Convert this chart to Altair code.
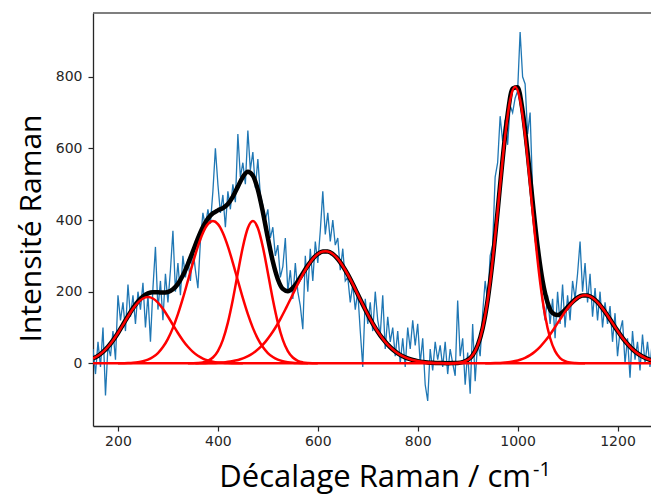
import altair as alt
import pandas as pd

# ---------------- data ----------------
# raw noisy spectrum, sampled every 5 cm-1 from 150 to 1280
spectrum_y = [
    40, -30, 60, -10, 100, -90, 50, 20, 90, 10,
    190, 120, 170, 90, 220, 130, 190, 110, 200, 150,
    225, 100, 190, 60, 210, 325, 150, 230, 120, 250,
    170, 260, 370, 200, 280, 190, 300, 240, 290, 230,
    320, 260, 210, 340, 420, 380, 430, 390, 480, 600,
    500, 420, 470, 380, 480, 430, 500, 450, 640, 520,
    560, 500, 650, 540, 590, 490, 570, 470, 440, 400,
    430, 350, 380, 300, 330, 240, 270, 350, 200, 260,
    180, 280, 200, 160, 95, 300, 200, 320, 230, 340,
    280, 370, 480, 360, 420, 340, 400, 330, 350, 260,
    320, 230, 240, 170, 220, 150, 200, 90, -10, 180,
    110, 170, 90, 200, 120, 80, 190, 40, 130, 60,
    100, 20, 90, 0, 70, -10, 100, 40, 120, 50,
    110, 0, 70, -60, -105, 40, -20, 60, 10, 50,
    -10, 60, -30, 40, 0, -35, 175, 20, 70, -60,
    30, -85, 110, -50, 60, 20, 140, 230, 170, 300,
    330, 520, 560, 690, 620, 680, 610, 720, 700, 740,
    760, 925, 800, 780, 640, 700, 480, 400, 300, 230,
    170, 120, 190, 110, 180, 70, 200, 110, 220, 100,
    190, 120, 230, 180, 250, 340, 200, 280, 170, 250,
    130, 210, 120, 200, 100, 170, 110, 160, 60, 140,
    20, 90, 120, 0, 70, -40, 90, 10, 60, -20,
    80, 0, 60, -10, 70, 20, 40,
]
spectrum_x = list(range(150, 1285, 5))

# total fit (black), every 10 cm-1 from 150 to 1280
fit_y = [
    13.4, 21.1, 31.9, 46.1, 63.9, 84.7, 107.9, 131.5, 153.7, 172.6,
    186.6, 195.1, 198.4, 198.3, 197.5, 199.1, 206.5, 221.8, 245.6, 277.0,
    312.8, 348.8, 380.4, 404.1, 418.8, 427.0, 433.5, 445.0, 465.6, 493.3,
    520.4, 534.5, 524.0, 484.6, 422.4, 350.4, 284.1, 234.9, 207.8, 201.4,
    210.4, 228.9, 251.2, 272.8, 291.6, 305.1, 312.1, 312.1, 305.0, 291.3,
    271.9, 248.1, 221.2, 192.7, 164.1, 136.6, 111.1, 88.3, 68.6, 52.1,
    38.6, 28.0, 19.8, 13.7, 9.3, 6.2, 4.0, 2.5, 1.6, 0.9,
    0.55, 0.4, 0.55, 1.2, 3.5, 9.4, 22.7, 49.5, 98.1, 176.5,
    287.7, 425.4, 570.6, 694.6, 767.4, 770.5, 704.1, 587.8, 452.2, 326.5,
    230.0, 169.2, 140.3, 134.7, 142.8, 156.9, 171.6, 183.1, 189.3, 189.2,
    182.7, 170.4, 153.4, 133.4, 112.0, 90.8, 71.1, 53.8, 39.3, 27.7,
    18.8, 12.4, 7.9, 4.8,
]
fit_x = list(range(150, 1290, 10))

# individual fitted bands (red), each sampled every 10 cm-1
band1_x = list(range(150, 460, 10))
band1_y = [13.4, 21.1, 31.9, 46.1, 63.9, 84.7, 107.5, 130.7, 152.2, 169.6, 181.0,
           185.0, 181.0, 169.6, 152.2, 130.7, 107.5, 84.7, 63.9, 46.1, 31.9, 21.1,
           13.4, 8.1, 4.7, 2.6, 1.4, 0.7, 0.35, 0.1, 0.0]
band2_x = list(range(200, 590, 10))
band2_y = [0.0, 0.35, 0.75, 1.5, 3.0, 5.6, 10.1, 17.4, 28.7, 45.3, 68.4, 99.0, 137.1,
           181.7, 230.8, 280.6, 326.6, 364.0, 388.5, 397.0, 388.5, 364.0, 326.6, 280.6,
           230.8, 181.7, 137.1, 99.0, 68.4, 45.3, 28.7, 17.4, 10.1, 5.6, 3.0, 1.5,
           0.75, 0.35, 0.0]
band3_x = list(range(340, 610, 10))
band3_y = [0.1, 0.3, 0.94, 2.7, 6.9, 16.2, 34.3, 65.6, 113.7, 178.4, 253.1, 325.0,
           377.6, 397.0, 377.6, 325.0, 253.1, 178.4, 113.7, 65.6, 34.3, 16.2, 6.9,
           2.7, 0.94, 0.3, 0.1]
band4_x = list(range(355, 885, 10))
band4_y = [0.1, 0.2, 0.4, 0.7, 1.2, 2.0, 3.2, 5.0, 7.6, 11.3, 16.6, 23.7, 33.0, 45.0,
           59.9, 78.1, 99.3, 123.5, 150.1, 178.3, 207.1, 234.9, 260.5, 282.3, 299.0,
           309.4, 313.0, 309.4, 299.0, 282.3, 260.5, 234.9, 207.1, 178.3, 150.1, 123.5,
           99.3, 78.1, 59.9, 45.0, 33.0, 23.7, 16.6, 11.3, 7.6, 5.0, 3.2, 2.0, 1.2,
           0.7, 0.4, 0.2, 0.1]
band5_x = list(range(855, 1145, 10))
band5_y = [0.0, 0.2, 0.7, 2.1, 5.9, 14.8, 33.9, 70.6, 133.1, 227.7, 353.4, 497.5,
           635.0, 735.2, 772.0, 735.2, 635.0, 497.5, 353.4, 227.7, 133.1, 70.6, 33.9,
           14.8, 5.9, 2.1, 0.7, 0.2, 0.0]
band6_x = list(range(935, 1295, 10))
band6_y = [0.2, 0.35, 0.7, 1.2, 2.2, 3.7, 6.2, 9.9, 15.4, 23.0, 33.1, 46.2, 62.1,
           80.7, 101.3, 122.8, 143.7, 162.4, 177.2, 186.7, 190.0, 186.7, 177.2, 162.4,
           143.7, 122.8, 101.3, 80.7, 62.1, 46.2, 33.1, 23.0, 15.4, 9.9, 6.2, 3.7]

x_ticks = [200, 400, 600, 800, 1000, 1200]
y_ticks = [0, 200, 400, 600, 800]
y_title = "Intensité Raman"
x_title = "Décalage Raman / cm"
x_title_sup = "-1"

# ---------------- tables ----------------
spec_df = pd.DataFrame({"x": spectrum_x, "y": spectrum_y})
fit_df = pd.DataFrame({"x": fit_x, "y": fit_y})
bands = [(band1_x, band1_y), (band2_x, band2_y), (band3_x, band3_y),
         (band4_x, band4_y), (band5_x, band5_y), (band6_x, band6_y)]
band_df = pd.concat(
    [pd.DataFrame({"x": bx, "y": by, "band": f"b{i}"}) for i, (bx, by) in enumerate(bands)],
    ignore_index=True,
)

W, H = 558, 413
AX = "#262626"

xscale = alt.Scale(domain=[150, 1267], nice=False, zero=False)
yscale = alt.Scale(domain=[-175, 978], nice=False, zero=False)

x_axis = alt.Axis(values=x_ticks, title=None, grid=False, tickSize=5, tickWidth=1.2,
                  domainWidth=1.3, domainColor=AX, tickColor=AX, labelColor=AX,
                  labelFont="DejaVu Sans", labelFontSize=14, labelPadding=3, format="d",
                  labelFlush=False)
y_axis = alt.Axis(values=y_ticks, title=None, grid=False, tickSize=5, tickWidth=1.2,
                  domainWidth=1.3, domainColor=AX, tickColor=AX, labelColor=AX,
                  labelFont="DejaVu Sans", labelFontSize=14, labelPadding=6, format="d")

X = alt.X("x:Q", scale=xscale, axis=x_axis)
Y = alt.Y("y:Q", scale=yscale, axis=y_axis)

spec = alt.Chart(spec_df).mark_line(color="#1f77b4", strokeWidth=1.3, clip=True).encode(x=X, y=Y)
fit = alt.Chart(fit_df).mark_line(color="black", strokeWidth=4.5, clip=True,
                                  interpolate="monotone").encode(x=X, y=Y)
base0 = alt.Chart(pd.DataFrame({"y": [0]})).mark_rule(color="#ff0000", strokeWidth=2.5).encode(y=Y)
band_lines = alt.Chart(band_df).mark_line(color="#ff0000", strokeWidth=2.5, clip=True,
                                          interpolate="monotone").encode(
    x=X, y=Y, detail="band:N")

top_frame = alt.Chart(pd.DataFrame({"k": [1]})).mark_rule(color="#555555", strokeWidth=1.5).encode(
    x=alt.value(0), x2=alt.value(W), y=alt.value(0))

ytitle = alt.Chart(pd.DataFrame({"t": [y_title]})).mark_text(
    angle=270, align="center", baseline="alphabetic", font="Open Sans", fontSize=30,
    color="black").encode(text="t:N", x=alt.value(-52), y=alt.value(215.5))
xtitle = alt.Chart(pd.DataFrame({"t": [x_title]})).mark_text(
    align="right", baseline="alphabetic", font="Open Sans", fontSize=31,
    color="black").encode(text="t:N", x=alt.value(438), y=alt.value(474))
xsup = alt.Chart(pd.DataFrame({"t": [x_title_sup]})).mark_text(
    align="left", baseline="alphabetic", font="Open Sans", fontSize=20,
    color="black").encode(text="t:N", x=alt.value(440), y=alt.value(463))

chart = alt.layer(spec, fit, base0, band_lines, top_frame, ytitle, xtitle, xsup).properties(
    width=W, height=H,
    padding={"left": 85, "top": 5, "right": 0, "bottom": 70},
    autosize=alt.AutoSizeParams(type="none"),
).configure_view(stroke=None)

chart.save("out.html", embed_options={"renderer": "svg", "actions": False})
